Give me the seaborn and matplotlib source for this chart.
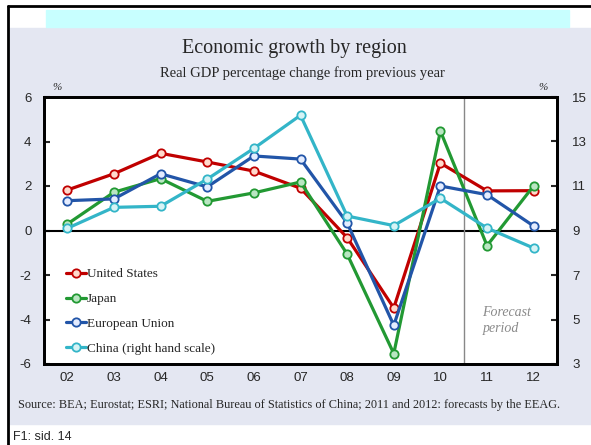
import numpy as np
import pandas as pd
import matplotlib
matplotlib.use("Agg")
import matplotlib.pyplot as plt
import matplotlib.patches as mpatches
from matplotlib.lines import Line2D
import seaborn as sns

# =========================
# DATA
# =========================
years = ["02", "03", "04", "05", "06", "07", "08", "09", "10", "11", "12"]
us = [1.82, 2.55, 3.47, 3.08, 2.67, 1.90, -0.32, -3.48, 3.03, 1.78, 1.79]
japan = [0.29, 1.72, 2.33, 1.31, 1.69, 2.18, -1.06, -5.53, 4.47, -0.68, 2.01]
eu = [1.34, 1.42, 2.55, 1.96, 3.35, 3.21, 0.34, -4.26, 2.00, 1.61, 0.20]
china = [9.10, 10.04, 10.09, 11.31, 12.69, 14.18, 9.65, 9.22, 10.45, 9.11, 8.21]

left_ticks = [-6, -4, -2, 0, 2, 4, 6]
right_ticks = [3, 5, 7, 9, 11, 13, 15]

df = pd.DataFrame({"x": np.arange(len(years)), "United States": us,
                   "Japan": japan, "European Union": eu, "China": china})

# =========================
# STYLE
# =========================
sns.set_style("white")
plt.rcParams["font.family"] = ["Liberation Sans", "DejaVu Sans"]
plt.rcParams["axes.unicode_minus"] = False
serif = ["Liberation Serif", "DejaVu Serif"]

styles = {
    "United States": ("#C00000", "#FFD9CC"),
    "Japan": ("#229933", "#B9E6C2"),
    "European Union": ("#2255A8", "#E4ECFF"),
    "China": ("#33B5C8", "#D6F3F5"),
}

W, H = 591, 445
fig = plt.figure(figsize=(W / 100, H / 100), dpi=100)
fig.patch.set_facecolor("white")

# background panels
fig.patches.append(mpatches.Rectangle((9 / W, 1 - 424 / H), 1, (424 - 28) / H,
                                      transform=fig.transFigure, color="#E4E7F2", zorder=-2))
fig.patches.append(mpatches.Rectangle((46 / W, 1 - 27 / H), (569 - 46) / W, 17 / H,
                                      transform=fig.transFigure, color="#C8FFFF", zorder=-2))
fig.lines.append(Line2D([8 / W, 1], [1 - 6 / H, 1 - 6 / H], transform=fig.transFigure,
                        color="black", lw=2))
fig.lines.append(Line2D([8 / W, 8 / W], [0, 1 - 6 / H], transform=fig.transFigure,
                        color="black", lw=2))

ax = fig.add_axes([44 / W, 1 - 364 / H, (557 - 44) / W, (364 - 97) / H])
ax.set_facecolor("white")

handles = []
for name in ["United States", "Japan", "European Union"]:
    c, fc = styles[name]
    sns.lineplot(data=df, x="x", y=name, ax=ax, color=c, lw=2.3, marker="o",
                 markersize=6, markerfacecolor=fc, markeredgecolor=c,
                 markeredgewidth=1.3, zorder=3)
    handles.append(Line2D([], [], color=c, lw=2.3, marker="o", markersize=6,
                          markerfacecolor=fc, markeredgecolor=c, markeredgewidth=1.3))

ax2 = ax.twinx()
c, fc = styles["China"]
sns.lineplot(data=df, x="x", y="China", ax=ax2, color=c, lw=2.3, marker="o",
             markersize=6, markerfacecolor=fc, markeredgecolor=c,
             markeredgewidth=1.3, zorder=3)
handles.append(Line2D([], [], color=c, lw=2.3, marker="o", markersize=6,
                      markerfacecolor=fc, markeredgecolor=c, markeredgewidth=1.3))

ax.set_xlim(-0.5, len(years) - 0.5)
ax.set_ylim(-6, 6)
ax2.set_ylim(3, 15)
ax.set_yticks(left_ticks)
ax2.set_yticks(right_ticks)
ax.set_xticks(np.arange(len(years)))
ax.set_xticklabels(years)
ax.set_xticks(np.arange(len(years) - 1) + 0.5, minor=True)
ax.set_xlabel("")
ax.set_ylabel("")
ax2.set_ylabel("")

ax.tick_params(axis="x", which="major", length=0, pad=6, labelsize=9.5)
ax.tick_params(axis="x", which="minor", direction="in", length=4, width=1.5)
ax.tick_params(axis="y", direction="in", length=4, width=1.5, pad=9, labelsize=9.5)
ax2.tick_params(axis="y", direction="in", length=4, width=1.5, pad=11, labelsize=9.5)

for a in (ax, ax2):
    for s in a.spines.values():
        s.set_visible(True)
        s.set_color("black")
        s.set_linewidth(2)

ax.axhline(0, color="black", lw=1.5, zorder=2)
ax.axvline(8.5, color="#888888", lw=1, zorder=2)

ax.text(8.9, -4.05, "Forecast\nperiod", family=serif, style="italic", color="#8A8A8A",
        fontsize=10, ha="left", va="center", linespacing=1.25)

ax2.set_zorder(ax.get_zorder() + 1)
ax2.patch.set_visible(False)
leg = ax2.legend(handles, ["United States", "Japan", "European Union",
                           "China (right hand scale)"],
                 loc="lower left", bbox_to_anchor=(0.025, 0.0), frameon=False,
                 prop={"family": serif, "size": 9.5}, handlelength=1.5,
                 handletextpad=0.05, labelspacing=0.95, borderaxespad=0.3)

# =========================
# TEXTS
# =========================
fig.text(294 / W, 1 - 48 / H, "Economic growth by region", family=serif,
         fontsize=14.5, ha="center", va="center")
fig.text(302 / W, 1 - 73 / H, "Real GDP percentage change from previous year",
         family=serif, fontsize=10.5, ha="center", va="center")
fig.text(57 / W, 1 - 88 / H, "%", family=serif, style="italic", fontsize=8,
         ha="center", va="center")
fig.text(543 / W, 1 - 88 / H, "%", family=serif, style="italic", fontsize=8,
         ha="center", va="center")
fig.text(289 / W, 1 - 405 / H,
         "Source: BEA; Eurostat; ESRI; National Bureau of Statistics of China; "
         "2011 and 2012: forecasts by the EEAG.",
         family=serif, fontsize=8.8, ha="center", va="center")
fig.text(13 / W, 1 - 437 / H, "F1: sid. 14", fontsize=9, ha="left", va="center")

fig.savefig("out.png", dpi=100)
